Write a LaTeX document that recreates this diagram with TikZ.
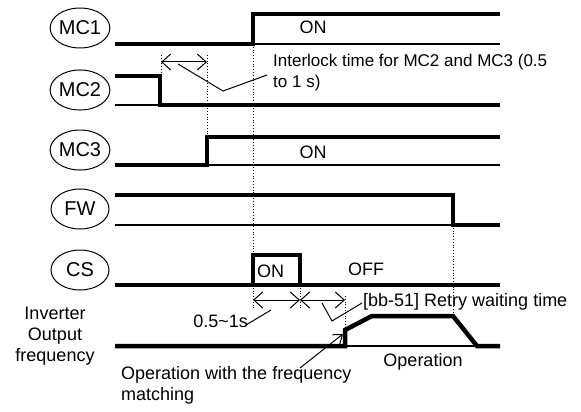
\documentclass[tikz,border=0pt]{standalone}
\usepackage{fontspec}
\setmainfont{Liberation Sans}
\usetikzlibrary{arrows.meta,shapes.geometric}
\begin{document}
\begin{tikzpicture}[x=1pt,y=-1pt,
  font=\fontsize{18}{21}\selectfont,
  sig/.style={line width=4.5pt, line join=miter},
  base/.style={line width=1.4pt},
  guide/.style={dotted, line width=0.8pt},
  lead/.style={line width=1pt},
  dimarrow/.style={line width=1pt, {Straight Barb[length=9pt,width=16pt]}-{Straight Barb[length=9pt,width=16pt]}},
  ptr/.style={line width=1pt, -{Straight Barb[length=8pt,width=12pt]}},
  lab/.style={draw, ellipse, line width=1pt, minimum width=58pt, minimum height=40pt, inner sep=0pt, font=\fontsize{20}{24}\selectfont},
  txt/.style={inner sep=0pt}
]
\useasboundingbox (0,0) rectangle (581,412);

% signal labels
\node[lab] (mc1) at (80,28) {MC1};
\node[lab] (mc2) at (80,90) {MC2};
\node[lab] (mc3) at (80,150) {MC3};
\node[lab] (fw) at (80,209) {FW};
\node[lab] (cs) at (80,270) {CS};
\node[txt, align=center] (inv) at (55,336) {Inverter\\Output\\frequency};

% MC1
\draw[sig] (115,44) -- (253,44) -- (253,14) -- (500,14);
\draw[base] (253,44) -- (500,44);
% MC2
\draw[sig] (115,76) -- (160,76) -- (160,105) -- (500,105);
\draw[base] (115,105) -- (160,105);
% MC3
\draw[sig] (115,165) -- (207,165) -- (207,137) -- (500,137);
\draw[base] (207,165) -- (500,165);
% FW
\draw[sig] (115,195) -- (453,195) -- (453,225) -- (500,225);
\draw[base] (115,225) -- (453,225);
% CS
\draw[sig] (115,285) -- (500,285);
\draw[sig] (253,285) -- (253,255) -- (300,255) -- (300,285);
% output frequency
\draw[sig] (115,346) -- (345,346) -- (345,330) -- (372,316) -- (453,316) -- (477,346) -- (500,346);
\draw[base] (345,346) -- (477,346);

% dotted guides
\draw[guide] (161,55) -- (161,76);
\draw[guide] (207,55) -- (207,137);
\draw[guide] (253,44) -- (253,255);
\draw[guide] (253,285) -- (253,310);
\draw[guide] (300,285) -- (300,310);
\draw[guide] (345,296) -- (345,330);
\draw[guide] (453,225) -- (453,316);

% dimension arrows
\coordinate (i1) at (161,62); \coordinate (i2) at (207,62);
\draw[dimarrow] (i1) -- (i2);
\coordinate (t1) at (253,300); \coordinate (t2) at (300,300); \coordinate (t3) at (345,300);
\draw[dimarrow] (t1) -- (t2);
\draw[dimarrow] (t2) -- (t3);

% texts
\node[txt] (on1) at (313,27) {ON};
\node[txt] (on3) at (313,152) {ON};
\node[txt, anchor=west] (oncs) at (257,271) {ON};
\node[txt] (off) at (366,269) {OFF};
\node[txt, anchor=west, align=left, font=\fontsize{17}{21}\selectfont] (ilk) at (273,73) {Interlock time for MC2 and MC3 (0.5\\to 1 s)};
\node[txt, anchor=east] (dly) at (248,321) {0.5\textasciitilde1s};
\node[txt, anchor=west] (bb) at (363,302) {[bb-51] Retry waiting time};
\node[txt] (op) at (423,362) {Operation};
\node[txt, anchor=west, align=left] (match) at (121,385) {Operation with the frequency\\matching};

% leaders
\coordinate (l1) at (178,64); \coordinate (l2) at (223,91); \coordinate (l3) at (267,75);
\draw[lead] (l1) -- (l2) -- (l3);
\coordinate (d1) at (271,310); \coordinate (d2) at (246,325);
\draw[lead] (d1) -- (d2);
\coordinate (b1) at (322,303); \coordinate (b2) at (332,321); \coordinate (b3) at (362,303);
\draw[lead] (b1) -- (b2) -- (b3);
\coordinate (m1) at (300,368); \coordinate (m2) at (343,334);
\draw[ptr] (m1) -- (m2);
\end{tikzpicture}
\end{document}
